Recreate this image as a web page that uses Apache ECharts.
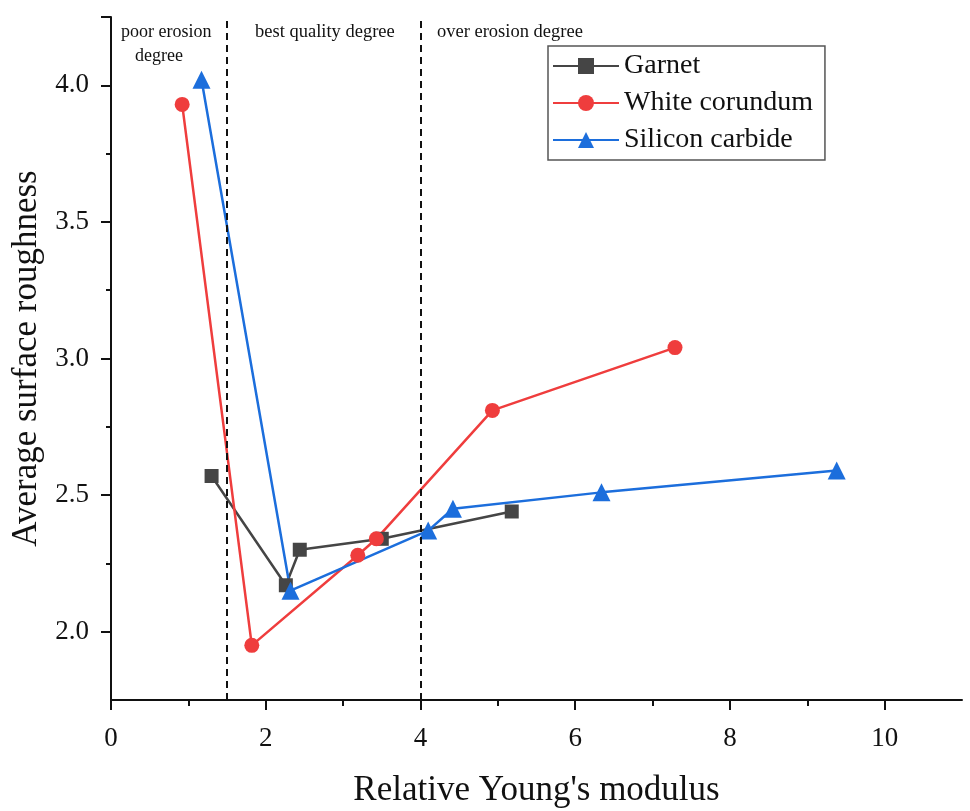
<!DOCTYPE html>
<html>
<head>
<meta charset="utf-8">
<script src="https://cdn.jsdelivr.net/npm/echarts@6/dist/echarts.min.js"></script>
<style>
  html, body { margin: 0; padding: 0; background: #fff; }
</style>
</head>
<body>
<div id="main" style="width: 970px; height: 811px"></div>
<script>
// data
const garnetX = [1.30, 2.26, 2.44, 3.50, 5.18];
const garnetY = [2.57, 2.17, 2.30, 2.34, 2.44];
const corundumX = [0.92, 1.82, 3.19, 3.43, 4.93, 7.29];
const corundumY = [3.93, 1.95, 2.28, 2.34, 2.81, 3.04];
const carbideX = [1.17, 2.32, 4.10, 4.42, 6.34, 9.38];
const carbideY = [4.02, 2.15, 2.37, 2.45, 2.51, 2.59];

const seriesNames = ['Garnet', 'White corundum', 'Silicon carbide'];
const regionBounds = [1.5, 4.0];
const xTicks = [0, 2, 4, 6, 8, 10];
const xMinorTicks = [1, 3, 5, 7, 9];
const yTicks = [2.0, 2.5, 3.0, 3.5, 4.0];
const yMinorTicks = [2.25, 2.75, 3.25, 3.75];

const font = 'Liberation Serif';

function pairs(xs, ys) {
  return xs.map((x, i) => [x, ys[i]]);
}

let myChart = echarts.init(document.getElementById('main'));
myChart.setOption({
  animation: false,
  textStyle: { fontFamily: font },
  grid: { left: 111, right: 8, top: 17, bottom: 111, outerBoundsMode: 'none' },
  legend: {
    data: seriesNames,
    orient: 'vertical',
    left: 548,
    top: 46,
    borderColor: '#555',
    borderWidth: 1.5,
    padding: [6, 12, 6, 4],
    itemWidth: 66,
    itemHeight: 20,
    itemGap: 9,
    textStyle: { fontFamily: font, fontSize: 28, color: '#111' }
  },
  xAxis: [
    {
      type: 'value',
      min: 0,
      max: 11,
      name: "Relative Young's modulus",
      nameLocation: 'middle',
      nameGap: 73,
      nameTextStyle: { fontFamily: font, fontSize: 35, color: '#111' },
      axisLine: { lineStyle: { color: '#111', width: 2 } },
      axisTick: { customValues: xTicks, length: 10, lineStyle: { color: '#111', width: 2 } },
      axisLabel: { customValues: xTicks, margin: 25, fontFamily: font, fontSize: 27, color: '#111' },
      splitLine: { show: false }
    },
    {
      type: 'value',
      min: 0,
      max: 11,
      position: 'bottom',
      axisLine: { show: false },
      axisTick: { customValues: xMinorTicks, length: 6, lineStyle: { color: '#111', width: 2 } },
      axisLabel: { show: false },
      splitLine: { show: false }
    }
  ],
  yAxis: [
    {
      type: 'value',
      min: 1.75,
      max: 4.25,
      name: 'Average surface roughness',
      nameLocation: 'middle',
      nameGap: 58,
      nameTextStyle: { fontFamily: font, fontSize: 35, color: '#111' },
      axisLine: { lineStyle: { color: '#111', width: 2 } },
      axisTick: { customValues: yTicks.concat([4.25]), length: 10, lineStyle: { color: '#111', width: 2 } },
      axisLabel: {
        customValues: yTicks,
        margin: 22,
        fontFamily: font,
        fontSize: 27,
        color: '#111',
        formatter: (v) => v.toFixed(1)
      },
      splitLine: { show: false }
    },
    {
      type: 'value',
      min: 1.75,
      max: 4.25,
      position: 'left',
      axisLine: { show: false },
      axisTick: { customValues: yMinorTicks, length: 5, lineStyle: { color: '#111', width: 2 } },
      axisLabel: { show: false },
      splitLine: { show: false }
    }
  ],
  graphic: [
    {
      type: 'text', left: 121, top: 23,
      style: { text: 'poor erosion', font: '18px "Liberation Serif"', fill: '#111' }
    },
    {
      type: 'text', left: 135, top: 47,
      style: { text: 'degree', font: '18px "Liberation Serif"', fill: '#111' }
    },
    {
      type: 'text', left: 255, top: 23,
      style: { text: 'best quality degree', font: '18.5px "Liberation Serif"', fill: '#111' }
    },
    {
      type: 'text', left: 437, top: 23,
      style: { text: 'over erosion degree', font: '18.5px "Liberation Serif"', fill: '#111' }
    }
  ],
  series: [
    {
      name: seriesNames[0],
      type: 'line',
      data: pairs(garnetX, garnetY),
      symbol: 'rect',
      symbolSize: 14,
      itemStyle: { color: '#454545' },
      lineStyle: { color: '#454545', width: 2.5 },
      markLine: {
        silent: true,
        symbol: 'none',
        label: { show: false },
        lineStyle: { color: '#111', type: [7, 5], width: 2 },
        data: regionBounds.map((v) => ({ xAxis: v }))
      }
    },
    {
      name: seriesNames[1],
      type: 'line',
      data: pairs(corundumX, corundumY),
      symbol: 'circle',
      symbolSize: 15,
      itemStyle: { color: '#EF3D3D' },
      lineStyle: { color: '#EF3D3D', width: 2.5 }
    },
    {
      name: seriesNames[2],
      type: 'line',
      data: pairs(carbideX, carbideY),
      symbol: 'triangle',
      symbolSize: 18,
      itemStyle: { color: '#1C6EDC' },
      lineStyle: { color: '#1C6EDC', width: 2.5 }
    }
  ]
});
</script>
</body>
</html>
